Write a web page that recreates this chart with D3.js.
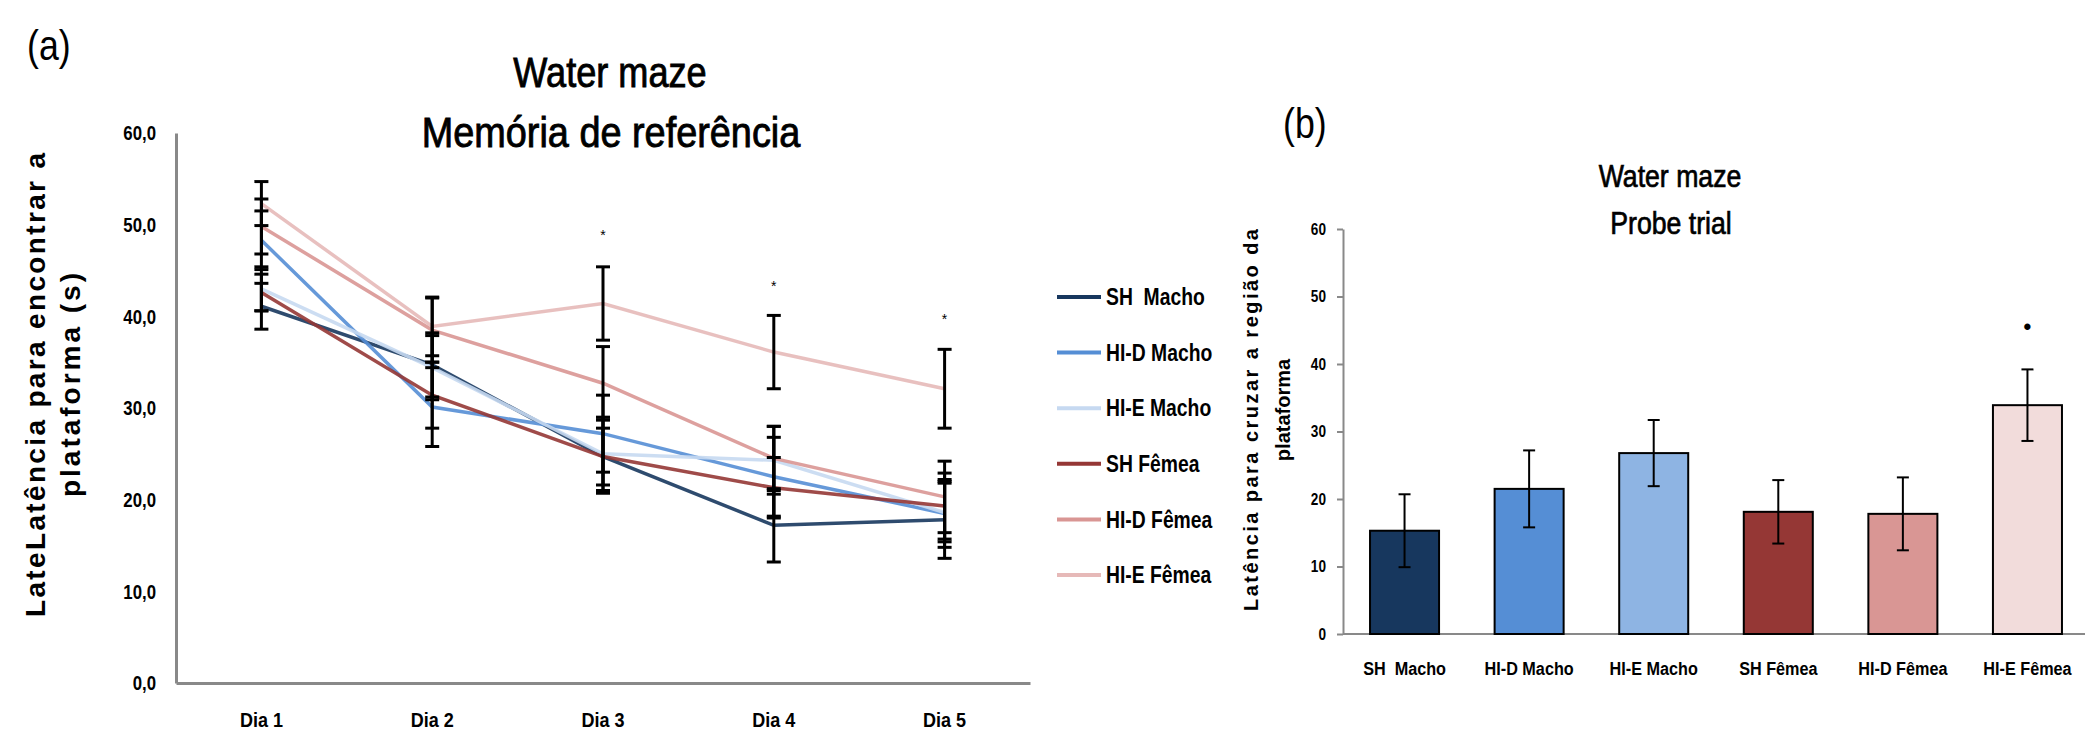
<!DOCTYPE html>
<html>
<head>
<meta charset="utf-8">
<script src="https://cdn.jsdelivr.net/npm/d3@7"></script>
<style>
  body { margin: 0; background: #fff; }
  svg { display: block; }
  text { white-space: pre; }
</style>
</head>
<body>
<div id="chart"></div>
<script>
// ---- data (a) water maze, reference memory ----
const days = ["Dia 1", "Dia 2", "Dia 3", "Dia 4", "Dia 5"];
const groups = ["SH  Macho", "HI-D Macho", "HI-E Macho", "SH Fêmea", "HI-D Fêmea", "HI-E Fêmea"];
const lineColors = ["#17375E", "#558ED5", "#C6D9F1", "#953735", "#D99694", "#E6B9B8"];
const barColors  = ["#17375E", "#558ED5", "#8EB4E3", "#953735", "#D99694", "#F2DCDB"];

const shMacho   = [41.1, 34.7, 24.7, 17.2, 17.8];
const hidMacho  = [48.3, 30.1, 27.2, 22.5, 18.5];
const hieMacho  = [43.0, 34.4, 25.0, 24.3, 18.6];
const shFemea   = [42.6, 31.4, 24.7, 21.3, 19.3];
const hidFemea  = [49.8, 38.5, 32.7, 24.5, 20.3];
const hieFemea  = [52.3, 38.9, 41.4, 36.1, 32.1];

const shMachoErr  = [2.5, 3.5, 3.1, 4.0, 4.2];
const hidMachoErr = [3.2, 4.3, 4.2, 4.3, 3.7];
const hieMachoErr = [2.4, 3.5, 4.0, 3.7, 3.2];
const shFemeaErr  = [2.0, 3.6, 4.0, 3.3, 3.6];
const hidFemeaErr = [3.0, 3.5, 4.0, 3.5, 3.9];
const hieFemeaErr = [2.4, 3.2, 4.0, 4.0, 4.3];

const starDays = ["Dia 3", "Dia 4", "Dia 5"];
const starVals = [49.2, 43.6, 40.0];

const yTicksA = [0, 10, 20, 30, 40, 50, 60];

// ---- data (b) probe trial ----
const probeVals = [15.3, 21.5, 26.8, 18.1, 17.8, 33.9];
const probeErr  = [5.4, 5.7, 4.9, 4.7, 5.4, 5.3];
const probeStarGroup = "HI-E Fêmea";
const probeStarVal = 45.6;
const yTicksB = [0, 10, 20, 30, 40, 50, 60];

const series = [shMacho, hidMacho, hieMacho, shFemea, hidFemea, hieFemea];
const errors = [shMachoErr, hidMachoErr, hieMachoErr, shFemeaErr, hidFemeaErr, hieFemeaErr];

const SANS = "'Liberation Sans', Arial, sans-serif";

// squeeze text horizontally (the original uses a condensed font)
function condense(sel, f) {
  sel.each(function() {
    const w = this.getComputedTextLength();
    d3.select(this).attr("textLength", w * f).attr("lengthAdjust", "spacingAndGlyphs");
  });
}

const svg = d3.select("#chart").append("svg")
    .attr("width", 2085)
    .attr("height", 734);

// ================= (a) =================
const xA = d3.scaleBand().domain(days).range([176, 1030]);
const yA = d3.scaleLinear().domain([0, 60]).range([683, 133]);
const cx = d => xA(d) + xA.bandwidth() / 2;

svg.append("text").attr("x", 27).attr("y", 60)
    .style("font-family", SANS).style("font-size", "42px")
    .text("(a)").call(condense, 0.85);

// titles, a thin stroke thickens the regular weight a little
svg.append("text").attr("x", 610).attr("y", 87).attr("text-anchor", "middle")
    .style("font-family", SANS).style("font-size", "43px")
    .attr("stroke", "#000").attr("stroke-width", 0.9)
    .text("Water maze").call(condense, 0.84);
svg.append("text").attr("x", 611).attr("y", 147).attr("text-anchor", "middle")
    .style("font-family", SANS).style("font-size", "43px")
    .attr("stroke", "#000").attr("stroke-width", 0.9)
    .text("Memória de referência").call(condense, 0.88);

// axes
const axA = svg.append("g")
    .attr("transform", "translate(176,0)")
    .call(d3.axisLeft(yA).tickValues(yTicksA).tickSize(0).tickPadding(20)
      .tickFormat(d => d3.format(".1f")(d).replace(".", ",")));
axA.select(".domain").attr("stroke", "#898989").attr("stroke-width", 3);
axA.selectAll("text").style("font-family", SANS).style("font-size", "21px")
    .style("font-weight", "bold").attr("fill", "#000").call(condense, 0.8);

const axB = svg.append("g")
    .attr("transform", "translate(0,683)")
    .call(d3.axisBottom(xA).tickSize(0).tickPadding(30));
axB.select(".domain").attr("stroke", "#898989").attr("stroke-width", 3);
axB.selectAll("text").style("font-family", SANS).style("font-size", "20px")
    .style("font-weight", "bold").attr("fill", "#000").call(condense, 0.9);

// y title
svg.append("text")
    .attr("transform", "translate(45,385) rotate(-90)")
    .attr("text-anchor", "middle")
    .attr("textLength", 464).attr("lengthAdjust", "spacing")
    .style("font-family", SANS).style("font-size", "28px").style("font-weight", "bold")
    .text("LateLatência para encontrar a");
svg.append("text")
    .attr("transform", "translate(80,385) rotate(-90)")
    .attr("text-anchor", "middle")
    .attr("textLength", 224).attr("lengthAdjust", "spacing")
    .style("font-family", SANS).style("font-size", "28px").style("font-weight", "bold")
    .text("plataforma (s)");

// lines
const line = d3.line().x((d, i) => cx(days[i])).y(d => yA(d));
svg.append("g").selectAll("path")
  .data(series)
  .join("path")
    .attr("d", line)
    .attr("fill", "none")
    .attr("stroke", (d, i) => lineColors[i])
    .attr("stroke-width", 3.5)
    .attr("stroke-opacity", 0.9);

// error bars
const errG = svg.append("g").attr("stroke", "#000").attr("stroke-width", 3);
series.forEach((s, k) => {
  s.forEach((v, i) => {
    const e = errors[k][i];
    const x = cx(days[i]);
    errG.append("line").attr("x1", x).attr("x2", x).attr("y1", yA(v + e)).attr("y2", yA(v - e));
    errG.append("line").attr("x1", x - 7).attr("x2", x + 7).attr("y1", yA(v + e)).attr("y2", yA(v + e));
    errG.append("line").attr("x1", x - 7).attr("x2", x + 7).attr("y1", yA(v - e)).attr("y2", yA(v - e));
  });
});

// asterisks
svg.append("g").selectAll("text")
  .data(starVals)
  .join("text")
    .attr("x", (d, i) => cx(starDays[i]))
    .attr("y", d => yA(d) + 8)
    .attr("text-anchor", "middle")
    .style("font-family", SANS).style("font-size", "14px")
    .text("*");

// legend
const leg = svg.append("g");
groups.forEach((g, i) => {
  const y = 297 + i * 55.6;
  leg.append("line").attr("x1", 1057).attr("x2", 1101).attr("y1", y).attr("y2", y)
      .attr("stroke", lineColors[i]).attr("stroke-width", 4);
  leg.append("text").attr("x", 1106).attr("y", y).attr("dy", "0.36em")
      .style("font-family", SANS).style("font-size", "23px").style("font-weight", "bold")
      .text(g).call(condense, 0.84);
});

// ================= (b) =================
const xB = d3.scaleBand().domain(groups).range([1343, 2089]).paddingInner(0.446).paddingOuter(0.217);
const yB = d3.scaleLinear().domain([0, 60]).range([634, 229]);

svg.append("text").attr("x", 1283).attr("y", 138)
    .style("font-family", SANS).style("font-size", "42px")
    .text("(b)").call(condense, 0.85);

svg.append("text").attr("x", 1670).attr("y", 187).attr("text-anchor", "middle")
    .style("font-family", SANS).style("font-size", "31px")
    .attr("stroke", "#000").attr("stroke-width", 0.7)
    .text("Water maze").call(condense, 0.86);
svg.append("text").attr("x", 1671).attr("y", 234).attr("text-anchor", "middle")
    .style("font-family", SANS).style("font-size", "31px")
    .attr("stroke", "#000").attr("stroke-width", 0.7)
    .text("Probe trial").call(condense, 0.86);

const ayB = svg.append("g")
    .attr("transform", "translate(1343,0)")
    .call(d3.axisLeft(yB).tickValues(yTicksB).tickSize(6).tickSizeOuter(0).tickPadding(11));
ayB.selectAll(".domain, line").attr("stroke", "#898989").attr("stroke-width", 2);
ayB.selectAll("text").style("font-family", SANS).style("font-size", "16px")
    .style("font-weight", "bold").attr("fill", "#000").call(condense, 0.85);

const axB2 = svg.append("g")
    .attr("transform", "translate(0,634)")
    .call(d3.axisBottom(xB).tickSize(0).tickPadding(28));
axB2.select(".domain").attr("stroke", "#898989").attr("stroke-width", 2)
    .attr("d", "M1343,0H2085");
axB2.selectAll("text").style("font-family", SANS).style("font-size", "18px")
    .style("font-weight", "bold").attr("fill", "#000").call(condense, 0.9);

svg.append("text")
    .attr("transform", "translate(1258,420) rotate(-90)")
    .attr("text-anchor", "middle")
    .attr("textLength", 382).attr("lengthAdjust", "spacing")
    .style("font-family", SANS).style("font-size", "20px").style("font-weight", "bold")
    .text("Latência para cruzar a região da");
svg.append("text")
    .attr("transform", "translate(1290,410) rotate(-90)")
    .attr("text-anchor", "middle")
    .style("font-family", SANS).style("font-size", "20px").style("font-weight", "bold")
    .text("plataforma");

svg.append("g").selectAll("rect")
  .data(probeVals)
  .join("rect")
    .attr("x", (d, i) => xB(groups[i]))
    .attr("y", d => yB(d))
    .attr("width", xB.bandwidth())
    .attr("height", d => yB(0) - yB(d))
    .attr("fill", (d, i) => barColors[i])
    .attr("stroke", "#000")
    .attr("stroke-width", 2);

const eb = svg.append("g").attr("stroke", "#000").attr("stroke-width", 2);
probeVals.forEach((v, i) => {
  const x = xB(groups[i]) + xB.bandwidth() / 2;
  const e = probeErr[i];
  eb.append("line").attr("x1", x).attr("x2", x).attr("y1", yB(v + e)).attr("y2", yB(v - e));
  eb.append("line").attr("x1", x - 6).attr("x2", x + 6).attr("y1", yB(v + e)).attr("y2", yB(v + e));
  eb.append("line").attr("x1", x - 6).attr("x2", x + 6).attr("y1", yB(v - e)).attr("y2", yB(v - e));
});

svg.append("text")
    .attr("x", xB(probeStarGroup) + xB.bandwidth() / 2)
    .attr("y", yB(probeStarVal))
    .attr("dy", "0.35em")
    .attr("text-anchor", "middle")
    .style("font-family", SANS).style("font-size", "22px").style("font-weight", "bold")
    .text("•");
</script>
</body>
</html>
